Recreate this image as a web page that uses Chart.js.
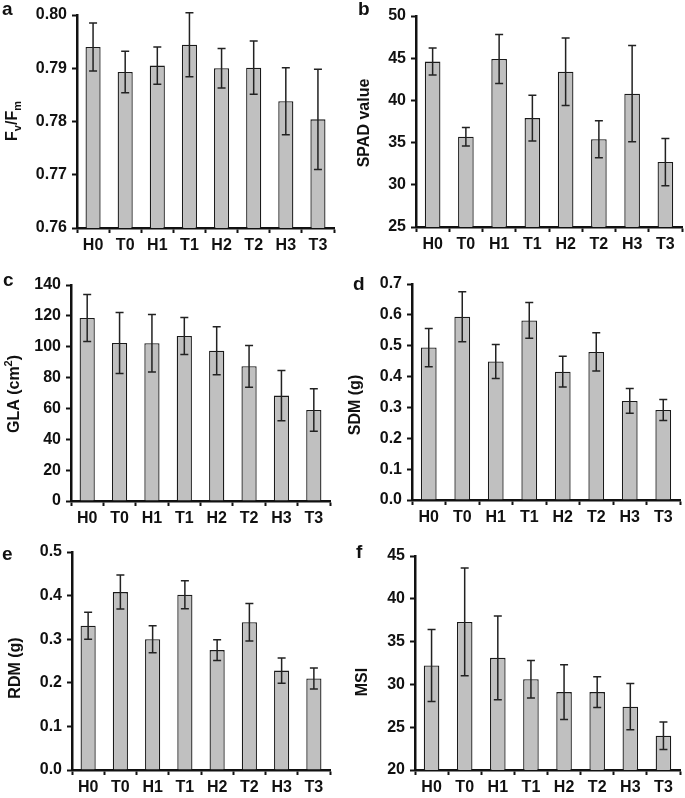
<!DOCTYPE html>
<html>
<head>
<meta charset="utf-8">
<script src="https://cdn.jsdelivr.net/npm/chart.js@4.4.0/dist/chart.umd.min.js"></script>
<style>
  body { margin: 0; background: #fff; }
  #wrap { position: relative; width: 685px; height: 798px; }
  .panel { position: absolute; }
</style>
</head>
<body>
<div id="wrap">
  <div class="panel" style="left:0;top:0;width:340px;height:265px"><canvas id="chartA"></canvas></div>
  <div class="panel" style="left:340px;top:0;width:345px;height:265px"><canvas id="chartB"></canvas></div>
  <div class="panel" style="left:0;top:265px;width:340px;height:267px"><canvas id="chartC"></canvas></div>
  <div class="panel" style="left:340px;top:265px;width:345px;height:267px"><canvas id="chartD"></canvas></div>
  <div class="panel" style="left:0;top:532px;width:340px;height:266px"><canvas id="chartE"></canvas></div>
  <div class="panel" style="left:340px;top:532px;width:345px;height:266px"><canvas id="chartF"></canvas></div>
</div>
<script>
const groups = ['H0', 'T0', 'H1', 'T1', 'H2', 'T2', 'H3', 'T3'];

const fvfm = [0.7940, 0.7893, 0.7905, 0.7944, 0.7900, 0.7901, 0.7838, 0.7804];
const fvfmErr = [0.0045, 0.0039, 0.0035, 0.0060, 0.0037, 0.0050, 0.0063, 0.0094];
const spad = [44.6, 35.7, 44.9, 37.9, 43.4, 35.4, 40.8, 32.7];
const spadErr = [1.6, 1.1, 2.9, 2.7, 4.0, 2.2, 5.7, 2.8];
const gla = [118.6, 102.4, 102.2, 107.0, 97.4, 87.3, 68.3, 59.0];
const glaErr = [15.3, 19.7, 18.6, 12.0, 15.6, 13.5, 16.3, 13.8];
const sdm = [0.494, 0.594, 0.449, 0.582, 0.416, 0.480, 0.321, 0.292];
const sdmErr = [0.062, 0.081, 0.055, 0.058, 0.050, 0.062, 0.040, 0.034];
const rdm = [0.331, 0.408, 0.300, 0.402, 0.275, 0.339, 0.228, 0.210];
const rdmErr = [0.031, 0.039, 0.031, 0.032, 0.024, 0.043, 0.029, 0.024];
const msi = [32.2, 37.3, 33.1, 30.6, 29.1, 29.1, 27.4, 24.0];
const msiErr = [4.2, 6.3, 4.9, 2.2, 3.2, 1.8, 2.7, 1.6];

// y axis [min, max, step, decimals]
const fvfmAxis = [0.76, 0.80, 0.01, 2];
const spadAxis = [25, 50, 5, 0];
const glaAxis = [0, 140, 20, 0];
const sdmAxis = [0, 0.7, 0.1, 1];
const rdmAxis = [0, 0.5, 0.1, 1];
const msiAxis = [20, 45, 5, 0];

const FONT = '"Liberation Sans", Arial, Helvetica, sans-serif';
Chart.defaults.font.family = FONT;
Chart.defaults.color = '#111';

const errorBars = {
    id: 'errorBars',
    afterDatasetsDraw(chart) {
        const ctx = chart.ctx;
        const y = chart.scales.y;
        const ds = chart.data.datasets[0];
        const meta = chart.getDatasetMeta(0);
        ctx.save();
        ctx.strokeStyle = '#222';
        ctx.lineWidth = 1.5;
        meta.data.forEach((bar, i) => {
            const top = y.getPixelForValue(ds.data[i] + ds.errors[i]);
            const bot = y.getPixelForValue(ds.data[i] - ds.errors[i]);
            ctx.beginPath();
            ctx.moveTo(bar.x, top); ctx.lineTo(bar.x, bot);
            ctx.moveTo(bar.x - 4, top); ctx.lineTo(bar.x + 4, top);
            ctx.moveTo(bar.x - 4, bot); ctx.lineTo(bar.x + 4, bot);
            ctx.stroke();
        });
        ctx.restore();
    }
};

const panelText = {
    id: 'panelText',
    afterDraw(chart, args, o) {
        const ctx = chart.ctx;
        ctx.save();
        ctx.fillStyle = '#111';
        ctx.textBaseline = 'alphabetic';
        ctx.textAlign = 'left';
        ctx.font = 'bold 19px ' + FONT;
        ctx.fillText(o.letter, o.lx, o.ly);
        const big = 'bold 16px ' + FONT, small = 'bold 11px ' + FONT;
        let w = 0;
        o.parts.forEach(p => {
            ctx.font = (p.sub || p.sup) ? small : big;
            w += ctx.measureText(p.t).width;
        });
        ctx.translate(o.tx, o.ty);
        ctx.rotate(-Math.PI / 2);
        let x = -w / 2;
        o.parts.forEach(p => {
            ctx.font = (p.sub || p.sup) ? small : big;
            const dy = p.sub ? 4 : (p.sup ? -7 : 0);
            ctx.fillText(p.t, x, dy);
            x += ctx.measureText(p.t).width;
        });
        ctx.restore();
    }
};

function makeChart(id, values, errors, axis, text, box) {
    const canvas = document.getElementById(id);
    const h = canvas.parentNode.clientHeight;
    const w = canvas.parentNode.clientWidth;
    return new Chart(canvas, {
        type: 'bar',
        data: {
            labels: groups,
            datasets: [{
                data: values,
                errors: errors,
                backgroundColor: '#c0c0c0',
                borderColor: '#1a1a1a',
                borderWidth: 1.3,
                categoryPercentage: 1,
                barPercentage: 0.47
            }]
        },
        options: {
            responsive: true,
            maintainAspectRatio: false,
            animation: false,
            layout: { padding: { top: box.top, right: w - box.right, left: 0, bottom: 0 } },
            plugins: {
                legend: { display: false },
                tooltip: { enabled: false },
                panelText: text
            },
            scales: {
                x: {
                    grid: { drawOnChartArea: false, drawTicks: true, tickLength: 5, tickWidth: 2, tickColor: '#111' },
                    border: { color: '#111', width: 2.5 },
                    ticks: { font: { size: 16, weight: 'bold' }, padding: 3, color: '#111' },
                    afterFit(s) { s.height = h - box.bottom; }
                },
                y: {
                    min: axis[0],
                    max: axis[1],
                    grid: { drawOnChartArea: false, drawTicks: true, tickLength: 5, tickWidth: 2, tickColor: '#111' },
                    border: { color: '#111', width: 2.5 },
                    ticks: {
                        stepSize: axis[2],
                        font: { size: 16, weight: 'bold' },
                        padding: 5,
                        color: '#111',
                        callback: v => Number(v).toFixed(axis[3])
                    },
                    afterFit(s) { s.width = box.left; }
                }
            }
        },
        plugins: [errorBars, panelText]
    });
}

makeChart('chartA', fvfm, fvfmErr, fvfmAxis,
    { letter: 'a', lx: 2, ly: 15, tx: 17, ty: 121,
      parts: [{ t: 'F' }, { t: 'v', sub: true }, { t: '/F' }, { t: 'm', sub: true }] },
    { left: 77, right: 334, top: 15, bottom: 228 });
makeChart('chartB', spad, spadErr, spadAxis,
    { letter: 'b', lx: 18, ly: 15, tx: 29, ty: 123, parts: [{ t: 'SPAD value' }] },
    { left: 76, right: 342, top: 16, bottom: 227 });
makeChart('chartC', gla, glaErr, glaAxis,
    { letter: 'c', lx: 3, ly: 21, tx: 19, ty: 129,
      parts: [{ t: 'GLA (cm' }, { t: '2', sup: true }, { t: ')' }] },
    { left: 71, right: 330, top: 20, bottom: 236 });
makeChart('chartD', sdm, sdmErr, sdmAxis,
    { letter: 'd', lx: 13, ly: 25, tx: 20, ty: 140, parts: [{ t: 'SDM (g)' }] },
    { left: 72, right: 340, top: 19, bottom: 235 });
makeChart('chartE', rdm, rdmErr, rdmAxis,
    { letter: 'e', lx: 2, ly: 28, tx: 20, ty: 136, parts: [{ t: 'RDM (g)' }] },
    { left: 72, right: 330, top: 20, bottom: 238 });
makeChart('chartF', msi, msiErr, msiAxis,
    { letter: 'f', lx: 16, ly: 26, tx: 27, ty: 150, parts: [{ t: 'MSI' }] },
    { left: 75, right: 340, top: 24, bottom: 238 });
</script>
</body>
</html>
